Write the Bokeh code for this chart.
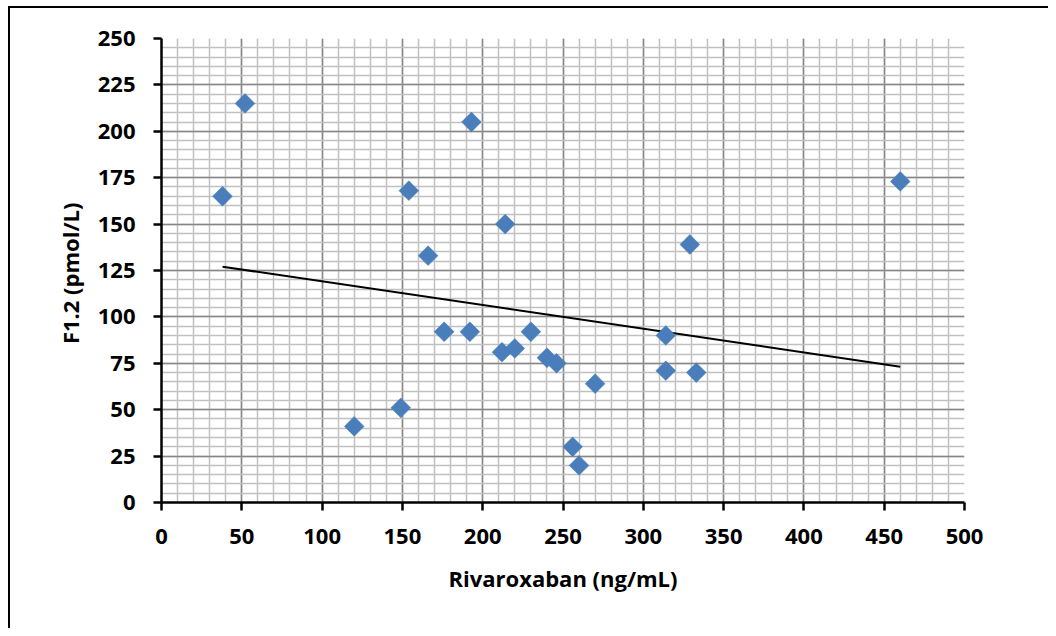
import numpy as np
from bokeh.plotting import figure
from bokeh.models import Range1d, FixedTicker, ColumnDataSource
from bokeh.embed import file_html
from bokeh.resources import INLINE

# Data
rivaroxaban = [38, 52, 120, 149, 154, 166, 176, 192, 193, 214, 212, 220, 230,
               240, 246, 270, 256, 260, 314, 314, 333, 329, 460]
f12 = [165, 215, 41, 51, 168, 133, 92, 92, 205, 150, 81, 83, 92,
       78, 75, 64, 30, 20, 90, 71, 70, 139, 173]

x_ticks = [0, 50, 100, 150, 200, 250, 300, 350, 400, 450, 500]
y_ticks = [0, 25, 50, 75, 100, 125, 150, 175, 200, 225, 250]
x_minor = list(range(0, 501, 10))
y_minor = list(range(0, 251, 5))

FONT = "Open Sans"

p = figure(width=1040, height=622, output_backend="svg", toolbar_location=None,
           x_range=Range1d(0, 500), y_range=Range1d(0, 250),
           min_border_left=151, min_border_right=86, min_border_top=30,
           min_border_bottom=128)
p.styles = {"border-left": "2px solid black", "border-top": "2px solid black",
            "margin-left": "8px", "margin-top": "6px"}
p.outline_line_color = None
p.background_fill_color = "white"

for ax, ticks, minor in ((p.xaxis[0], x_ticks, x_minor), (p.yaxis[0], y_ticks, y_minor)):
    ax.ticker = FixedTicker(ticks=ticks, minor_ticks=minor)
    ax.axis_line_color = "black"
    ax.axis_line_width = 2.5
    ax.major_tick_line_color = "black"
    ax.major_tick_line_width = 2.5
    ax.major_tick_out = 8
    ax.major_tick_in = 0
    ax.minor_tick_line_color = None
    ax.major_label_text_font = FONT
    ax.major_label_text_font_style = "bold"
    ax.major_label_text_font_size = "22px"
    ax.major_label_text_color = "black"
    ax.axis_label_text_font = FONT
    ax.axis_label_text_font_style = "bold"
    ax.axis_label_text_font_size = "22px"
    ax.axis_label_text_color = "black"

p.xaxis.axis_label = "Rivaroxaban (ng/mL)"
p.yaxis.axis_label = "F1.2  (pmol/L)"
p.xaxis.major_label_standoff = 18
p.yaxis.major_label_standoff = 18
p.xaxis.axis_label_standoff = 16
p.yaxis.axis_label_standoff = 10

for g in (p.xgrid[0], p.ygrid[0]):
    g.grid_line_color = "#878787"
    g.grid_line_width = 1.5
    g.minor_grid_line_color = "#c0c0c0"
    g.minor_grid_line_width = 1.5
    g.level = "underlay"

x = np.array(rivaroxaban, dtype=float)
y = np.array(f12, dtype=float)
slope, intercept = np.polyfit(x, y, 1)
tx = np.array([x.min(), x.max()])
p.line(tx, slope * tx + intercept, line_color="black", line_width=2)

src = ColumnDataSource(dict(x=rivaroxaban, y=f12))
p.scatter("x", "y", source=src, marker="square", angle=np.pi / 4, size=14,
          fill_color="#4a7ebb", line_color="#4a7ebb", line_width=0.5)

open("out.html", "w").write(file_html(p, INLINE))
